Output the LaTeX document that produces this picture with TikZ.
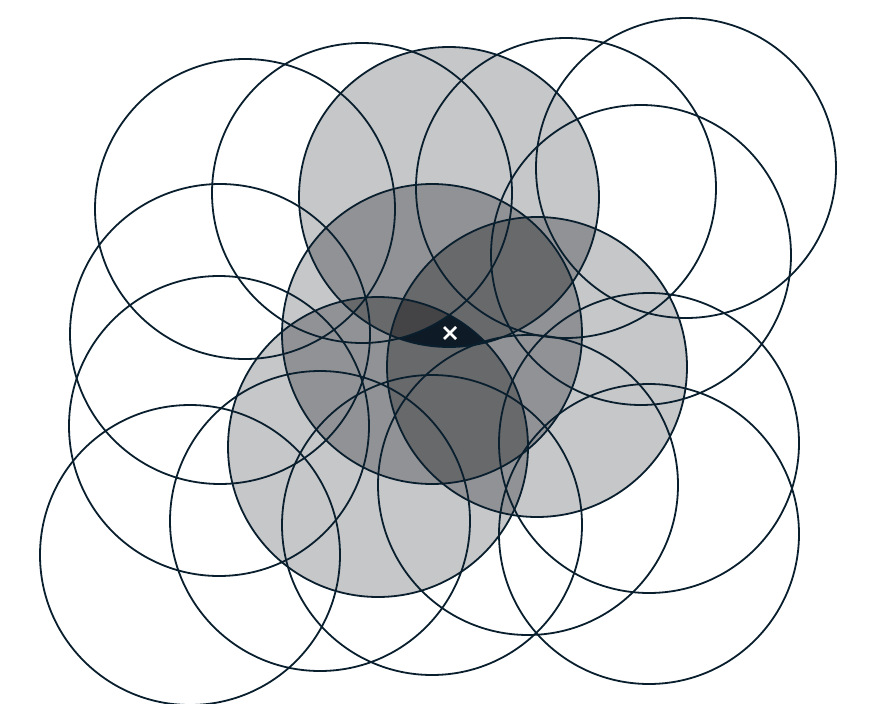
\documentclass[tikz,border=0pt]{standalone}
\usetikzlibrary{calc}
\begin{document}
\begin{tikzpicture}[x=1pt,y=-1pt,
  ring/.style={draw=lineC,line width=1.8pt}]
\definecolor{lineC}{HTML}{0A1F2E}
\definecolor{gA}{HTML}{C6C7C9}
\definecolor{gB}{HTML}{919296}
\definecolor{gC}{HTML}{68696B}
\definecolor{gD}{HTML}{444446}
\definecolor{gK}{HTML}{0E1A26}
\useasboundingbox (0,0) rectangle (876,704);
\def\R{150}
% unshaded
\coordinate (u1) at (245,209);
\coordinate (u2) at (362,193);
\coordinate (u4) at (566,188);
\coordinate (u5) at (686,168);
\coordinate (u6) at (641,255);
\coordinate (u7) at (220,334);
\coordinate (u10) at (219,426);
\coordinate (u12) at (649,443);
\coordinate (u13) at (190,555);
\coordinate (u14) at (320,521);
\coordinate (u15) at (432,525);
\coordinate (u16) at (528,485);
\coordinate (u17) at (649,534);
% shaded
\coordinate (T) at (449,197);
\coordinate (C) at (432,334);
\coordinate (Rt) at (537,367);
\coordinate (L) at (378,447);
% single
\foreach \a in {T,C,Rt,L} \fill[gA] (\a) circle[radius=\R];
% pairs
\foreach \a/\b in {T/C,T/Rt,T/L,C/Rt,C/L,Rt/L}{
  \begin{scope}\clip (\a) circle[radius=\R]; \fill[gB] (\b) circle[radius=\R];\end{scope}}
% triples
\foreach \a/\b/\c in {T/C/Rt,T/C/L,T/Rt/L,C/Rt/L}{
  \begin{scope}\clip (\a) circle[radius=\R]; \clip (\b) circle[radius=\R];
  \fill[gC] (\c) circle[radius=\R];\end{scope}}
% quad
\begin{scope}
  \clip (T) circle[radius=\R]; \clip (C) circle[radius=\R]; \clip (Rt) circle[radius=\R];
  \fill[gK] (L) circle[radius=\R];
  \clip (L) circle[radius=\R];
  \fill[gD] (u2) circle[radius=\R];
\end{scope}
% outlines
\foreach \a in {u1,u2,u4,u5,u6,u7,u10,u12,u13,u14,u15,u16,u17,T,C,Rt,L}
  \draw[ring] (\a) circle[radius=\R];
% cross
\coordinate (X) at (450,333);
\draw[white,line width=2.6pt] ($(X)+(-6,-6)$) -- ($(X)+(6,6)$) ($(X)+(-6,6)$) -- ($(X)+(6,-6)$);
\end{tikzpicture}
\end{document}
